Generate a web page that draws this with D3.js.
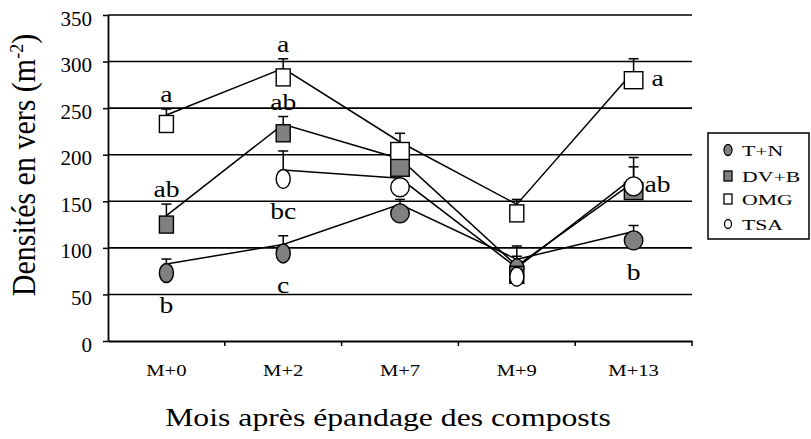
<!DOCTYPE html>
<html>
<head>
<meta charset="utf-8">
<script src="https://cdn.jsdelivr.net/npm/d3@7"></script>
<style>
  html, body { margin: 0; padding: 0; background: #fff; }
  svg { display: block; font-family: "Liberation Serif", "DejaVu Serif", serif; }
</style>
</head>
<body>
<svg id="chart" width="811" height="439"></svg>
<script>
// Earthworm densities (per m²) after compost spreading
const months = ["M+0", "M+2", "M+7", "M+9", "M+13"];
const yTicks = [0, 50, 100, 150, 200, 250, 300, 350];

const tnValues  = [73, 94, 137, 78, 108];
const tnErr     = [15, 19, 15, 24, 16];
const dvbValues = [125, 223, 186, 71, 161];
const dvbErr    = [22, 18, 15, 20, 26];
const omgValues = [233, 283, 204, 137, 280];
const omgErr    = [16, 20, 19, 15, 23];
const tsaValues = [null, 174, 165, 69, 166];
const tsaErr    = [null, 30, 15, 15, 31];

// significance letters: month, treatment, letter, placement
const letters = [
  ["M+0", "OMG", "a", "above"],
  ["M+0", "DV+B", "ab", "above"],
  ["M+0", "T+N", "b", "below"],
  ["M+2", "OMG", "a", "above"],
  ["M+2", "DV+B", "ab", "above"],
  ["M+2", "TSA", "bc", "below"],
  ["M+2", "T+N", "c", "below"],
  ["M+13", "OMG", "a", "right"],
  ["M+13", "TSA", "ab", "right"],
  ["M+13", "T+N", "b", "below"]
];

const series = [
  { name: "T+N",  values: tnValues,  err: tnErr,  shape: "circle", fill: "#808080" },
  { name: "DV+B", values: dvbValues, err: dvbErr, shape: "square", fill: "#808080" },
  { name: "OMG",  values: omgValues, err: omgErr, shape: "square", fill: "#ffffff" },
  { name: "TSA",  values: tsaValues, err: tsaErr, shape: "circle", fill: "#ffffff" }
];

// marker width per month (markers are drawn narrower at some dates)
const markerW = { "M+0": 14, "M+2": 14, "M+7": 18.5, "M+9": 14, "M+13": 18.5 };

const svg = d3.select("#chart");
const plot = { left: 108, right: 692, top: 15, bottom: 341 };

const x = d3.scaleBand().domain(months).range([plot.left, plot.right]);
const y = d3.scaleLinear().domain([0, 350]).range([plot.bottom, plot.top]);
const cx = m => x(m) + x.bandwidth() / 2;

// horizontal gridlines
svg.append("g")
  .selectAll("line")
  .data(yTicks.filter(d => d > 0))
  .join("line")
  .attr("x1", plot.left).attr("x2", plot.right)
  .attr("y1", d => y(d)).attr("y2", d => y(d))
  .attr("stroke", "#000").attr("stroke-width", 1.6);

// y axis
const yAxis = svg.append("g")
  .attr("transform", `translate(${plot.left},0)`)
  .call(d3.axisLeft(y).tickValues(yTicks).tickSize(5).tickSizeOuter(0).tickFormat(d3.format("d")));
yAxis.select(".domain").attr("stroke", "#000").attr("stroke-width", 1.8);
yAxis.selectAll(".tick line").attr("stroke", "#000").attr("stroke-width", 1.5);
yAxis.selectAll(".tick text")
  .attr("x", -16).attr("dy", null).attr("y", 10)
  .attr("fill", "#000")
  .style("font-family", "Liberation Serif, serif")
  .style("font-size", "21px");

// x axis
const xAxis = svg.append("g")
  .attr("transform", `translate(0,${plot.bottom})`)
  .call(d3.axisBottom(x).tickSize(0).tickSizeOuter(0));
xAxis.select(".domain").attr("stroke", "#000").attr("stroke-width", 1.8);
xAxis.selectAll(".tick text")
  .attr("y", 35).attr("dy", null)
  .attr("transform", "scale(1.25,1)")
  .attr("fill", "#000")
  .style("font-family", "Liberation Serif, serif")
  .style("font-size", "16.5px");
// tick marks on band boundaries
svg.append("g")
  .selectAll("line")
  .data(months.slice(1).map(m => x(m)).concat([plot.right]))
  .join("line")
  .attr("x1", d => d).attr("x2", d => d)
  .attr("y1", plot.bottom).attr("y2", plot.bottom + 5)
  .attr("stroke", "#000").attr("stroke-width", 1.5);

// connecting lines (drawn slightly above the marker centres)
const line = d3.line()
  .defined(d => d.v != null)
  .x(d => cx(d.m))
  .y(d => y(d.v));
svg.append("g")
  .attr("transform", "translate(0,-9)")
  .selectAll("path")
  .data(series)
  .join("path")
  .attr("d", s => line(months.map((m, i) => ({ m, v: s.values[i] }))))
  .attr("fill", "none")
  .attr("stroke", "#000")
  .attr("stroke-width", 1.5);

// error bars (upper side only)
const errG = svg.append("g");
series.forEach(s => {
  months.forEach((m, i) => {
    const v = s.values[i];
    if (v == null) return;
    const top = y(v + s.err[i]);
    errG.append("line")
      .attr("x1", cx(m)).attr("x2", cx(m))
      .attr("y1", y(v)).attr("y2", top)
      .attr("stroke", "#000").attr("stroke-width", 1.5);
    errG.append("line")
      .attr("x1", cx(m) - 5).attr("x2", cx(m) + 5)
      .attr("y1", top).attr("y2", top)
      .attr("stroke", "#000").attr("stroke-width", 1.5);
  });
});

// markers
const markG = svg.append("g");
series.forEach(s => {
  months.forEach((m, i) => {
    const v = s.values[i];
    if (v == null) return;
    const w = markerW[m];
    if (s.shape === "square") {
      markG.append("rect")
        .attr("x", cx(m) - w / 2).attr("y", y(v) - 8.5)
        .attr("width", w).attr("height", 17)
        .attr("fill", s.fill).attr("stroke", "#000").attr("stroke-width", 1.4);
    } else {
      markG.append("ellipse")
        .attr("cx", cx(m)).attr("cy", y(v))
        .attr("rx", w / 2).attr("ry", 9.5)
        .attr("fill", s.fill).attr("stroke", "#000").attr("stroke-width", 1.4);
    }
  });
});

// significance letters
const byName = Object.fromEntries(series.map(s => [s.name, s]));
const letterG = svg.append("g");
letters.forEach(([m, name, txt, place]) => {
  const s = byName[name];
  const i = months.indexOf(m);
  const v = s.values[i];
  let px = cx(m), py;
  if (place === "above") py = y(v + s.err[i]) - 7;
  else if (place === "below") py = y(v) + 40;
  else { px = cx(m) + 24; py = y(v) + 6; }
  letterG.append("text")
    .attr("transform", `translate(${px},${py}) scale(1.15,1)`)
    .attr("text-anchor", "middle")
    .style("font-size", "24px")
    .attr("fill", "#000")
    .text(txt);
});

// axis titles
const yTitle = svg.append("text")
  .attr("transform", "translate(35,165) rotate(-90) scale(1,1.1)")
  .attr("text-anchor", "middle")
  .style("font-size", "30px")
  .attr("fill", "#000");
yTitle.append("tspan").text("Densités en vers (m");
yTitle.append("tspan").attr("dy", -11).style("font-size", "18px").text("-2");
yTitle.append("tspan").attr("dy", 11).style("font-size", "30px").text(")");

svg.append("text")
  .attr("transform", "translate(388,426) scale(1.22,1)")
  .attr("text-anchor", "middle")
  .style("font-size", "26px")
  .attr("fill", "#000")
  .text("Mois après épandage des composts");

// legend
const legend = svg.append("g");
legend.append("rect")
  .attr("x", 708).attr("y", 133).attr("width", 101).attr("height", 106)
  .attr("fill", "#fff").attr("stroke", "#000").attr("stroke-width", 1.5);
const legendRows = [150, 176, 199, 224];
series.forEach((s, k) => {
  const ly = legendRows[k];
  if (s.shape === "square") {
    legend.append("rect")
      .attr("x", 724).attr("y", ly - 5).attr("width", 8).attr("height", 10)
      .attr("fill", s.fill).attr("stroke", "#000").attr("stroke-width", 1.3);
  } else {
    legend.append("ellipse")
      .attr("cx", 728).attr("cy", ly)
      .attr("rx", k === 0 ? 4 : 3.5).attr("ry", k === 0 ? 5.5 : 4.5)
      .attr("fill", s.fill).attr("stroke", "#000").attr("stroke-width", 1.3);
  }
  legend.append("text")
    .attr("transform", `translate(742,${ly + 6}) scale(1.45,1)`)
    .style("font-size", "15px")
    .attr("fill", "#000")
    .text(s.name);
});
</script>
</body>
</html>
